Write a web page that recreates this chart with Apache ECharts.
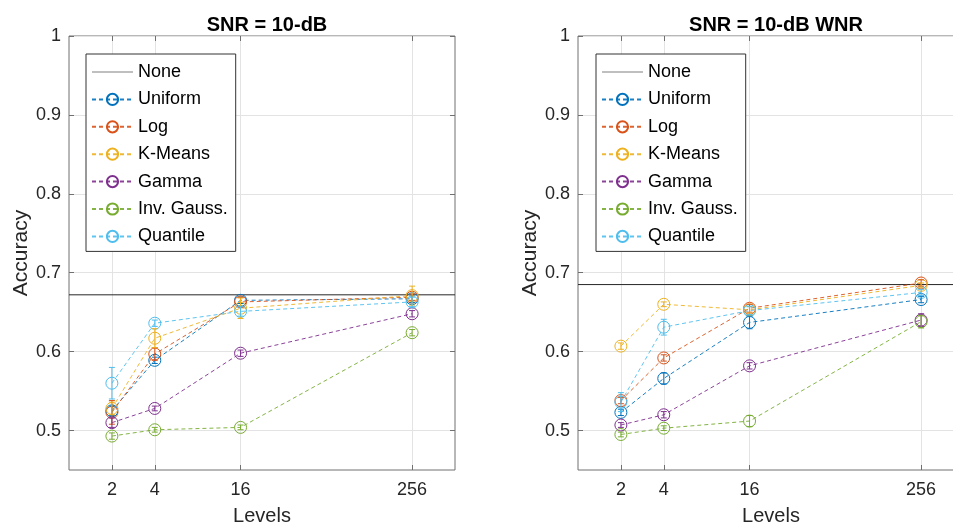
<!DOCTYPE html>
<html>
<head>
<meta charset="utf-8">
<script src="https://cdn.jsdelivr.net/npm/echarts@6/dist/echarts.min.js"></script>
<style>html,body{margin:0;padding:0;background:#fff;}#c{width:953px;height:527px;}</style>
</head>
<body>
<div id="c"></div>
<script>
// ---------- DATA ----------
const levels = [2, 4, 16, 256];
const methods = ['Uniform', 'Log', 'K-Means', 'Gamma', 'Inv. Gauss.', 'Quantile'];
const yTicks = [0.5, 0.6, 0.7, 0.8, 0.9, 1];
const titles = ['SNR = 10-dB', 'SNR = 10-dB WNR'];

// Panel 1: SNR = 10-dB
const noneSnr = 0.672;
const snrUniform  = [0.525, 0.589, 0.665, 0.667];
const snrLog      = [0.523, 0.597, 0.663, 0.669];
const snrKMeans   = [0.528, 0.617, 0.655, 0.671];
const snrGamma    = [0.510, 0.528, 0.598, 0.648];
const snrInvGauss = [0.493, 0.501, 0.504, 0.624];
const snrQuantile = [0.560, 0.636, 0.651, 0.663];
const snrUniformErr  = [0.006, 0.004, 0.004, 0.005];
const snrLogErr      = [0.015, 0.008, 0.006, 0.004];
const snrKMeansErr   = [0.008, 0.012, 0.013, 0.012];
const snrGammaErr    = [0.006, 0.003, 0.004, 0.004];
const snrInvGaussErr = [0.004, 0.003, 0.003, 0.004];
const snrQuantileErr = [0.020, 0.004, 0.006, 0.006];

// Panel 2: SNR = 10-dB WNR
const noneWnr = 0.685;
const wnrUniform  = [0.523, 0.566, 0.637, 0.666];
const wnrLog      = [0.538, 0.592, 0.655, 0.687];
const wnrKMeans   = [0.607, 0.660, 0.653, 0.684];
const wnrGamma    = [0.507, 0.520, 0.582, 0.640];
const wnrInvGauss = [0.495, 0.503, 0.512, 0.638];
const wnrQuantile = [0.536, 0.631, 0.652, 0.675];
const wnrUniformErr  = [0.004, 0.007, 0.008, 0.004];
const wnrLogErr      = [0.004, 0.004, 0.005, 0.004];
const wnrKMeansErr   = [0.004, 0.003, 0.004, 0.003];
const wnrGammaErr    = [0.003, 0.004, 0.004, 0.008];
const wnrInvGaussErr = [0.003, 0.003, 0.007, 0.008];
const wnrQuantileErr = [0.012, 0.010, 0.005, 0.004];

// ---------- STYLE ----------
const colors = ['#0072BD', '#D95319', '#EDB120', '#7E2F8E', '#77AC30', '#4DBEEE'];
const axisColor = '#707070';
const textColor = '#262626';
const font = 'Arial, "Liberation Sans", Helvetica, sans-serif';

const panels = [
  { none: noneSnr, vals: [snrUniform, snrLog, snrKMeans, snrGamma, snrInvGauss, snrQuantile],
    errs: [snrUniformErr, snrLogErr, snrKMeansErr, snrGammaErr, snrInvGaussErr, snrQuantileErr],
    left: 69, legendLeft: 86 },
  { none: noneWnr, vals: [wnrUniform, wnrLog, wnrKMeans, wnrGamma, wnrInvGauss, wnrQuantile],
    errs: [wnrUniformErr, wnrLogErr, wnrKMeansErr, wnrGammaErr, wnrInvGaussErr, wnrQuantileErr],
    left: 578, legendLeft: 596 }
];

const grids = [], xAxes = [], yAxes = [], legends = [], titleArr = [];
const lineSeries = [], errSeries = [];

panels.forEach((p, pi) => {
  grids.push({ left: p.left, top: 36, width: 386, height: 434, show: true,
    containLabel: false, outerBoundsMode: 'none',
    borderColor: axisColor, borderWidth: 1, backgroundColor: '#fff' });
  xAxes.push({
    gridIndex: pi, type: 'log', logBase: 2, min: 1, max: 512, position: 'bottom',
    axisLine: { show: false },
    axisTick: { show: true, inside: true, length: 5, customValues: levels, lineStyle: { color: axisColor } },
    axisLabel: { show: true, customValues: levels, margin: 11, fontSize: 18, color: textColor, fontFamily: font,
      formatter: v => String(Math.round(v)) },
    splitLine: { show: true, lineStyle: { color: '#e3e3e3', width: 1 } },
    minorTick: { show: false }, minorSplitLine: { show: false },
    name: 'Levels', nameLocation: 'middle', nameGap: 36,
    nameTextStyle: { fontSize: 20, color: textColor, fontFamily: font }
  });
  xAxes.push({
    gridIndex: pi, type: 'log', logBase: 2, min: 1, max: 512, position: 'top',
    axisLine: { show: false },
    axisTick: { show: true, inside: true, length: 5, customValues: levels, lineStyle: { color: axisColor } },
    axisLabel: { show: false }, splitLine: { show: false }
  });
  yAxes.push({
    gridIndex: pi, type: 'value', min: 0.45, max: 1, position: 'left',
    axisLine: { show: false },
    axisTick: { show: true, inside: true, length: 5, customValues: yTicks, lineStyle: { color: axisColor } },
    axisLabel: { show: true, customValues: yTicks, margin: 8, fontSize: 18, color: textColor, fontFamily: font,
      formatter: v => (Math.abs(v - 1) < 1e-9 ? '1' : v.toFixed(1)) },
    splitLine: { show: true, lineStyle: { color: '#e3e3e3', width: 1 } },
    name: 'Accuracy', nameLocation: 'middle', nameGap: 36,
    nameTextStyle: { fontSize: 21, color: textColor, fontFamily: font }
  });
  yAxes.push({
    gridIndex: pi, type: 'value', min: 0.45, max: 1, position: 'right',
    axisLine: { show: false },
    axisTick: { show: true, inside: true, length: 5, customValues: yTicks, lineStyle: { color: axisColor } },
    axisLabel: { show: false }, splitLine: { show: false }
  });

  titleArr.push({ text: titles[pi], left: p.left + 193, top: 10, textAlign: 'center',
    textStyle: { fontSize: 20, fontWeight: 'bold', color: '#000', fontFamily: font } });

  lineSeries.push({
    name: 'None', type: 'line', xAxisIndex: pi * 2, yAxisIndex: pi * 2,
    data: [[1, p.none], [512, p.none]], symbol: 'none', silent: true,
    lineStyle: { color: '#262626', width: 1, type: 'solid' }, itemStyle: { color: '#808080' },
    z: 3, animation: false
  });
  methods.forEach((m, mi) => {
    const c = colors[mi];
    lineSeries.push({
      name: m, type: 'line', xAxisIndex: pi * 2, yAxisIndex: pi * 2,
      data: levels.map((lv, k) => [lv, p.vals[mi][k]]),
      symbol: 'circle', symbolSize: 12, showSymbol: true,
      lineStyle: { color: c, width: 1, type: [4, 3], opacity: 0.9 },
      itemStyle: { color: 'rgba(255,255,255,0)', borderColor: c, borderWidth: 1 },
      z: 4, animation: false
    });
    errSeries.push({
      name: m, type: 'custom', xAxisIndex: pi * 2, yAxisIndex: pi * 2,
      data: levels.map((lv, k) => [lv, p.vals[mi][k] - p.errs[mi][k], p.vals[mi][k] + p.errs[mi][k]]),
      encode: { x: 0, y: [1, 2] },
      renderItem: (params, api) => {
        const x = api.value(0);
        const a = api.coord([x, api.value(1)]);
        const b = api.coord([x, api.value(2)]);
        const w = 3;
        const st = { stroke: c, lineWidth: 1 };
        return { type: 'group', children: [
          { type: 'line', shape: { x1: a[0], y1: a[1], x2: b[0], y2: b[1] }, style: st },
          { type: 'line', shape: { x1: a[0] - w, y1: a[1], x2: a[0] + w, y2: a[1] }, style: st },
          { type: 'line', shape: { x1: b[0] - w, y1: b[1], x2: b[0] + w, y2: b[1] }, style: st }
        ] };
      },
      z: 5, animation: false, silent: true
    });
  });

  legends.push({
    left: p.legendLeft, top: 54, orient: 'vertical',
    data: [{ name: 'None', icon: 'path://M0,0 H41 V1 H0 Z', itemStyle: { color: '#808080' } }].concat(methods),
    itemWidth: 41, itemHeight: 14, itemGap: 9.4,
    padding: [9, 8, 6, 5],
    backgroundColor: '#fff', borderColor: '#333', borderWidth: 1, borderRadius: 0,
    selectedMode: false,
    textStyle: { fontSize: 18, color: '#000', fontFamily: font }
  });
});

const chart = echarts.init(document.getElementById('c'), null, { renderer: 'canvas' });
chart.setOption({
  animation: false,
  backgroundColor: '#fff',
  title: titleArr,
  grid: grids,
  xAxis: xAxes,
  yAxis: yAxes,
  legend: legends,
  series: lineSeries.concat(errSeries)
});
</script>
</body>
</html>
